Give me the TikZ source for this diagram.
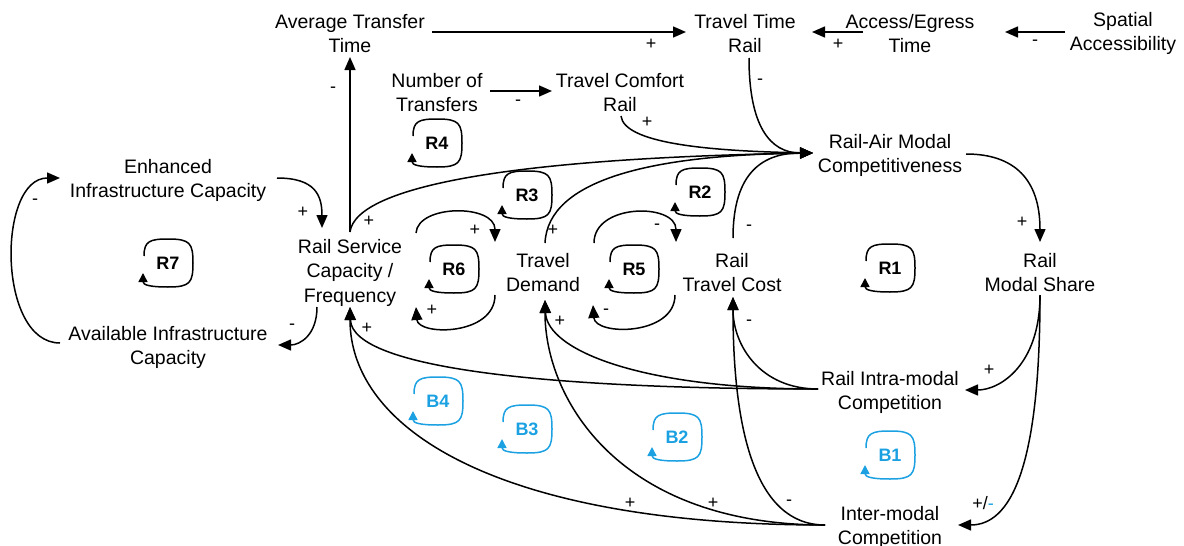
\documentclass[tikz,border=0pt]{standalone}
\usepackage{fontspec}
\setmainfont{Liberation Sans}
\usetikzlibrary{arrows.meta,calc}
\definecolor{loopblue}{HTML}{1BA1E2}
\tikzset{
  var/.style={align=center,font=\fontsize{19.5}{24.5}\selectfont,inner sep=0pt},
  conn/.style={line width=1.5pt,-{Triangle[length=13pt,width=11pt]}},
  pol/.style={font=\fontsize{18}{18}\selectfont,inner sep=0pt},
  loopline/.style={line width=1.5pt,-{Triangle[length=9pt,width=9pt]}},
  looplab/.style={font=\bfseries\fontsize{18}{18}\selectfont,inner sep=0pt},
}
\newcommand{\loopmark}[4]{%
  \node[looplab,text=#4] (#1) at (#2) {#3};
  \draw[loopline,color=#4] ($(#1)+(-24,-7)$)
    .. controls ($(#1)+(-24,-22)$) and ($(#1)+(-18,-24)$) .. ($(#1)+(0,-24)$)
    .. controls ($(#1)+(22,-24)$) and ($(#1)+(25,-20)$) .. ($(#1)+(25,0)$)
    .. controls ($(#1)+(25,20)$) and ($(#1)+(22,24)$) .. ($(#1)+(0,24)$)
    .. controls ($(#1)+(-18,24)$) and ($(#1)+(-25,22)$) .. ($(#1)+(-25,10)$);}
\begin{document}
\begin{tikzpicture}[x=1pt,y=-1pt]
\useasboundingbox (0,0) rectangle (1184,546);
% variables
\node[var] (att) at (350,33.5) {Average Transfer\\Time};
\node[var] (ttr) at (745,33.5) {Travel Time\\Rail};
\node[var] (aet) at (910,33.5) {Access/Egress\\Time};
\node[var] (sa)  at (1123,33.5) {Spatial\\Accessibility};
\node[var] (nt)  at (437,92.5) {Number of\\Transfers};
\node[var] (tcr) at (620,92.5) {Travel Comfort\\Rail};
\node[var] (ram) at (890,155.5) {Rail-Air Modal\\Competitiveness};
\node[var] (eic) at (168,180.5) {Enhanced\\Infrastructure Capacity};
\node[var] (rs)  at (350,272.5) {Rail Service\\Capacity /\\Frequency};
\node[var] (td)  at (543,272.5) {Travel\\Demand};
\node[var] (rtc) at (732,272.5) {Rail\\Travel Cost};
\node[var] (rms) at (1040,272.5) {Rail\\Modal Share};
\node[var] (aic) at (168,347.5) {Available Infrastructure\\Capacity};
\node[var] (ric) at (890,392.5) {Rail Intra-modal\\Competition};
\node[var] (imc) at (890,527.5) {Inter-modal\\Competition};
% connectors
\draw[conn] ($(att)+(82,-1.5)$) -- ($(ttr)+(-59,-1.5)$);
\draw[conn] ($(aet)+(-47,-1.5)$) -- ($(ttr)+(67,-1.5)$);
\draw[conn] ($(sa)+(-58,-1.5)$) -- ($(aet)+(95,-1.5)$);
\draw[conn] ($(nt)+(53,-1.5)$) -- ($(tcr)+(-68,-1.5)$);
\draw[conn] ($(rs)+(0,-40.5)$) -- ($(att)+(0,23.5)$);
\draw[conn] ($(ttr)+(4,24.5)$) .. controls ($(ttr)+(4,92.5)$) and ($(ttr)+(25,119.5)$) .. ($(ram)+(-77,-2.5)$);
\draw[conn] ($(tcr)+(1,23.5)$) .. controls ($(tcr)+(4,49.5)$) and ($(tcr)+(80,58.5)$) .. ($(ram)+(-77,-2.5)$);
\draw[conn] ($(rs)+(0,-40.5)$) .. controls ($(rs)+(6,-87.5)$) and ($(rs)+(170,-114.5)$) .. ($(ram)+(-77,-2.5)$);
\draw[conn] ($(td)+(2,-29.5)$) .. controls ($(td)+(5,-92.5)$) and ($(td)+(107,-117.5)$) .. ($(ram)+(-77,-2.5)$);
\draw[conn] ($(rtc)+(1,-34.5)$) .. controls ($(rtc)+(1,-102.5)$) and ($(rtc)+(33,-119.5)$) .. ($(ram)+(-77,-2.5)$);
\draw[conn] ($(ram)+(76,-1.5)$) .. controls ($(ram)+(125,-1.5)$) and ($(rms)+(0,-92.5)$) .. ($(rms)+(0,-30.5)$);
\draw[conn] ($(rms)+(0,22.5)$) .. controls ($(rms)+(0,92.5)$) and ($(ric)+(110,-2.5)$) .. ($(ric)+(75,-2.5)$);
\draw[conn] ($(rms)+(0,22.5)$) .. controls ($(rms)+(0,197.5)$) and ($(imc)+(120,-2.5)$) .. ($(imc)+(68,-2.5)$);
\draw[conn] ($(eic)+(109,-2.5)$) .. controls ($(eic)+(147,-2.5)$) and ($(rs)+(-28,-77.5)$) .. ($(rs)+(-28,-44.5)$);
\draw[conn] ($(rs)+(-33,34.5)$) .. controls ($(rs)+(-33,62.5)$) and ($(aic)+(132,-2.5)$) .. ($(aic)+(110,-2.5)$);
\draw[conn] ($(aic)+(-108,-4.5)$) .. controls ($(aic)+(-171,-4.5)$) and ($(eic)+(-171,-2.5)$) .. ($(eic)+(-108,-2.5)$);
\draw[conn] ($(rs)+(66,-39.5)$) .. controls ($(rs)+(68,-68.5)$) and ($(td)+(-48,-68.5)$) .. ($(td)+(-48,-30.5)$);
\draw[conn] ($(td)+(-48,22.5)$) .. controls ($(td)+(-48,63.5)$) and ($(rs)+(68,63.5)$) .. ($(rs)+(66,34.5)$);
\draw[conn] ($(td)+(51,-29.5)$) .. controls ($(td)+(51,-69.5)$) and ($(rtc)+(-56,-69.5)$) .. ($(rtc)+(-56,-30.5)$);
\draw[conn] ($(rtc)+(-57,22.5)$) .. controls ($(rtc)+(-57,63.5)$) and ($(td)+(52,63.5)$) .. ($(td)+(50,32.5)$);
\draw[conn] ($(ric)+(-72,-3.5)$) .. controls ($(ric)+(-330,-3.5)$) and ($(rs)+(2,97.5)$) .. ($(rs)+(0,34.5)$);
\draw[conn] ($(ric)+(-72,-3.5)$) .. controls ($(ric)+(-250,-3.5)$) and ($(td)+(4,77.5)$) .. ($(td)+(2,27.5)$);
\draw[conn] ($(ric)+(-72,-3.5)$) .. controls ($(ric)+(-130,-3.5)$) and ($(rtc)+(1,72.5)$) .. ($(rtc)+(1,24.5)$);
\draw[conn] ($(imc)+(-65,-2.5)$) .. controls ($(imc)+(-390,-2.5)$) and ($(rs)+(0,157.5)$) .. ($(rs)+(0,34.5)$);
\draw[conn] ($(imc)+(-65,-2.5)$) .. controls ($(imc)+(-270,-2.5)$) and ($(td)+(2,127.5)$) .. ($(td)+(2,27.5)$);
\draw[conn] ($(imc)+(-65,-2.5)$) .. controls ($(imc)+(-135,-2.5)$) and ($(rtc)+(1,157.5)$) .. ($(rtc)+(1,24.5)$);
% polarities
\node[pol] (p1) at (651,44) {+};
\node[pol] (p2) at (838,44) {+};
\node[pol] (p3) at (1035,43) {-};
\node[pol] (p4) at (518,103) {-};
\node[pol] (p5) at (333,90) {-};
\node[pol] (p6) at (760,82) {-};
\node[pol] (p7) at (647,122) {+};
\node[pol] (p8) at (369,221) {+};
\node[pol] (p9) at (553,230) {+};
\node[pol] (p10) at (749,228) {-};
\node[pol] (p11) at (1022,222) {+};
\node[pol] (p12) at (989,370) {+};
\node[pol] (p13) at (983,503) {+/\textcolor{loopblue}{-}};
\node[pol] (p14) at (303,212) {+};
\node[pol] (p15) at (292,327) {-};
\node[pol] (p16) at (35,202) {-};
\node[pol] (p17) at (475,230) {+};
\node[pol] (p18) at (432,310) {+};
\node[pol] (p19) at (657,227) {-};
\node[pol] (p20) at (606,312) {-};
\node[pol] (p21) at (367,328) {+};
\node[pol] (p22) at (560,321) {+};
\node[pol] (p23) at (749,323) {-};
\node[pol] (p24) at (630,503) {+};
\node[pol] (p25) at (713,503) {+};
\node[pol] (p26) at (789,503) {-};
% loop markers
\loopmark{R4}{437,143}{R4}{black}
\loopmark{R3}{527,195}{R3}{black}
\loopmark{R2}{700,192}{R2}{black}
\loopmark{R6}{454,269}{R6}{black}
\loopmark{R5}{634,269}{R5}{black}
\loopmark{R1}{890,268}{R1}{black}
\loopmark{R7}{168,263}{R7}{black}
\loopmark{B4}{438,401}{B4}{loopblue}
\loopmark{B3}{527,429}{B3}{loopblue}
\loopmark{B2}{677,437}{B2}{loopblue}
\loopmark{B1}{890,455}{B1}{loopblue}
\end{tikzpicture}
\end{document}
